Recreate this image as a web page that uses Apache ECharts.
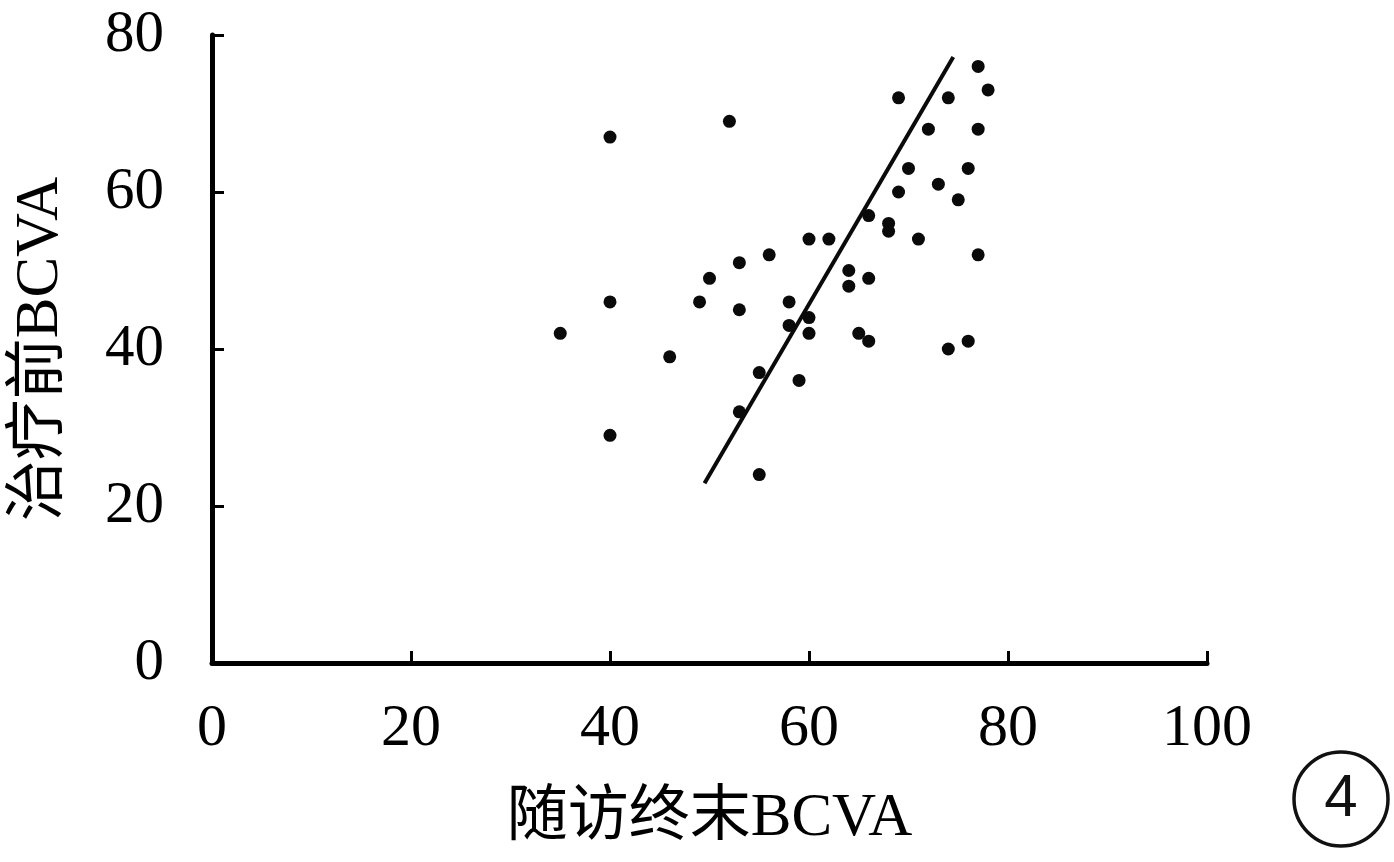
<!DOCTYPE html>
<html>
<head>
<meta charset="utf-8">
<script src="https://cdn.jsdelivr.net/npm/echarts@6/dist/echarts.min.js"></script>
<style>
html,body{margin:0;padding:0;background:#fff;}
#chart{width:1394px;height:862px;}
</style>
</head>
<body>
<div id="chart"></div>
<script>
// Data
var followUpBCVA = [35,40,40,40,46,49,50,52,53,53,53,55,55,56,58,58,59,60,60,60,62,64,64,65,66,66,66,68,68,69,69,70,71,72,73,74,74,75,76,76,77,77,77,78];
var pretreatBCVA = [42,67,46,29,39,46,49,69,51,45,32,37,24,52,46,43,36,54,44,42,54,50,48,42,57,49,41,56,55,72,60,63,54,68,61,72,40,59,63,41,76,68,52,73];
var fitLineX = [49.5, 74.5];
var fitLineY = [22.9, 77.2];
var xTicks = [0,20,40,60,80,100];
var yTicks = [0,20,40,60,80];
var xTitle = '随访终末BCVA';
var yTitle = '治疗前BCVA';
var panelLabel = '4';

var points = followUpBCVA.map(function(x,i){return [x, pretreatBCVA[i]];});
var fit = fitLineX.map(function(x,i){return [x, fitLineY[i]];});

var serif = '"Liberation Serif","Times New Roman","Noto Sans CJK SC",serif';
var chart = echarts.init(document.getElementById('chart'), null, {renderer:'canvas'});
var axisCommon = {
  type:'value',
  interval:20,
  splitLine:{show:false},
  axisLine:{show:true, onZero:false, lineStyle:{color:'#000', width:5}},
  axisTick:{show:true, inside:true, length:12, lineStyle:{color:'#000', width:3}},
  nameLocation:'middle',
  nameTextStyle:{color:'#000', fontFamily:serif, fontSize:61}
};
chart.setOption({
  animation:false,
  backgroundColor:'#fff',
  grid:{left:212, right:187, top:35, bottom:199, containLabel:false, outerBoundsMode:'none'},
  xAxis: Object.assign({}, axisCommon, {
    min:xTicks[0], max:xTicks[xTicks.length-1],
    name:xTitle, nameGap:125,
    axisLabel:{color:'#000', fontFamily:serif, fontSize:60, margin:36,
      formatter:function(v){return xTicks.indexOf(v)>=0? String(v):'';}}
  }),
  yAxis: Object.assign({}, axisCommon, {
    min:yTicks[0], max:yTicks[yTicks.length-1],
    name:yTitle, nameGap:141,
    axisLabel:{color:'#000', fontFamily:serif, fontSize:59, margin:48,
      formatter:function(v){return yTicks.indexOf(v)>=0? String(v):'';}}
  }),
  series:[
    {type:'scatter', data:points, symbol:'circle', symbolSize:13,
     itemStyle:{color:'#0a0a0a', opacity:1}, z:3},
    {type:'line', data:fit, symbol:'none', lineStyle:{color:'#0a0a0a', width:4}, z:2}
  ],
  graphic:[
    {type:'circle', shape:{cx:1341, cy:799, r:47}, style:{fill:'none', stroke:'#111', lineWidth:3.5}},
    {type:'text', x:1341, y:799, style:{text:panelLabel, fill:'#111', font:'60px "Liberation Sans", Arial, sans-serif', align:'center', verticalAlign:'middle'}}
  ]
});
</script>
</body>
</html>
